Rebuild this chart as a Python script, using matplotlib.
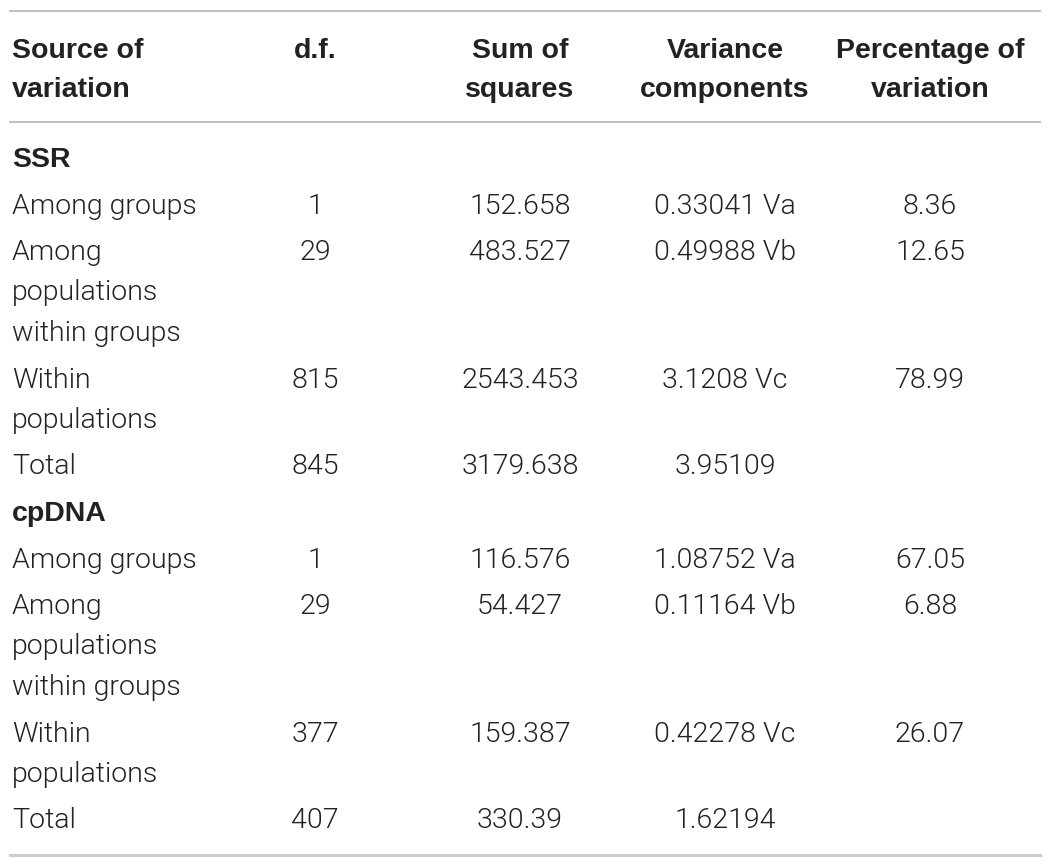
import matplotlib
matplotlib.use("Agg")
import matplotlib.pyplot as plt
from matplotlib import font_manager

# table content
headers = [
    ["Source of", "variation"],
    ["d.f."],
    ["Sum of", "squares"],
    ["Variance", "components"],
    ["Percentage of", "variation"],
]

sections = ["SSR", "cpDNA"]

row_labels = [
    ["Among groups"],
    ["Among", "populations", "within groups"],
    ["Within", "populations"],
    ["Total"],
]

ssr_df = ["1", "29", "815", "845"]
ssr_ss = ["152.658", "483.527", "2543.453", "3179.638"]
ssr_vc = ["0.33041 Va", "0.49988 Vb", "3.1208 Vc", "3.95109"]
ssr_pct = ["8.36", "12.65", "78.99", ""]

cp_df = ["1", "29", "377", "407"]
cp_ss = ["116.576", "54.427", "159.387", "330.39"]
cp_vc = ["1.08752 Va", "0.11164 Vb", "0.42278 Vc", "1.62194"]
cp_pct = ["67.05", "6.88", "26.07", ""]

W, H = 1050, 867
fig = plt.figure(figsize=(W / 100, H / 100), dpi=100)
fig.patch.set_facecolor("white")
ax = fig.add_axes([0, 0, 1, 1])
ax.set_xlim(0, W)
ax.set_ylim(H, 0)
ax.axis("off")

BOLD_FONT = "Liberation Sans"
FS = 20.5
TXT = "#222222"

# thin body text if a light face is installed, like the original
body_font, body_weight = "Liberation Sans", "normal"
for fam in ["Roboto", "Inter", "Open Sans", "Lato"]:
    faces = [f for f in font_manager.fontManager.ttflist
             if f.name == fam and f.style == "normal"
             and isinstance(f.weight, int) and f.weight == 300]
    if faces:
        body_font, body_weight = fam, 300
        break

col_x = [12, 315, 520, 725, 930]
col_ha = ["left", "center", "center", "center", "center"]

# rules
ax.plot([10, 1040], [11, 11], color="#bbbbbb", lw=1.3)
ax.plot([10, 1040], [122, 122], color="#bbbbbb", lw=1.3)
ax.plot([10, 1040], [855, 855], color="#cccccc", lw=2.2)

# header
for x, ha, lines in zip(col_x, col_ha, headers):
    for i, line in enumerate(lines):
        ax.text(x, 58 + 39 * i, line, ha=ha, va="baseline", fontsize=FS,
                fontweight="bold", family=BOLD_FONT, color=TXT)

row_gap = 46.5
line_gap = 40.5
y = 167
blocks = [
    (sections[0], [ssr_df, ssr_ss, ssr_vc, ssr_pct]),
    (sections[1], [cp_df, cp_ss, cp_vc, cp_pct]),
]
for name, cols in blocks:
    ax.text(col_x[0], y, name, ha="left", va="baseline", fontsize=FS,
            fontweight="bold", family=BOLD_FONT, color=TXT)
    for r, label in enumerate(row_labels):
        y += row_gap
        for i, line in enumerate(label):
            ax.text(col_x[0], y + line_gap * i, line, ha="left", va="baseline",
                    fontsize=FS, family=body_font, fontweight=body_weight,
                    color=TXT)
        for c, vals in enumerate(cols):
            ax.text(col_x[c + 1], y, vals[r], ha="center", va="baseline",
                    fontsize=FS, family=body_font, fontweight=body_weight,
                    color=TXT)
        y += line_gap * (len(label) - 1)
    y += row_gap

fig.savefig("out.png", dpi=100, facecolor="white")
